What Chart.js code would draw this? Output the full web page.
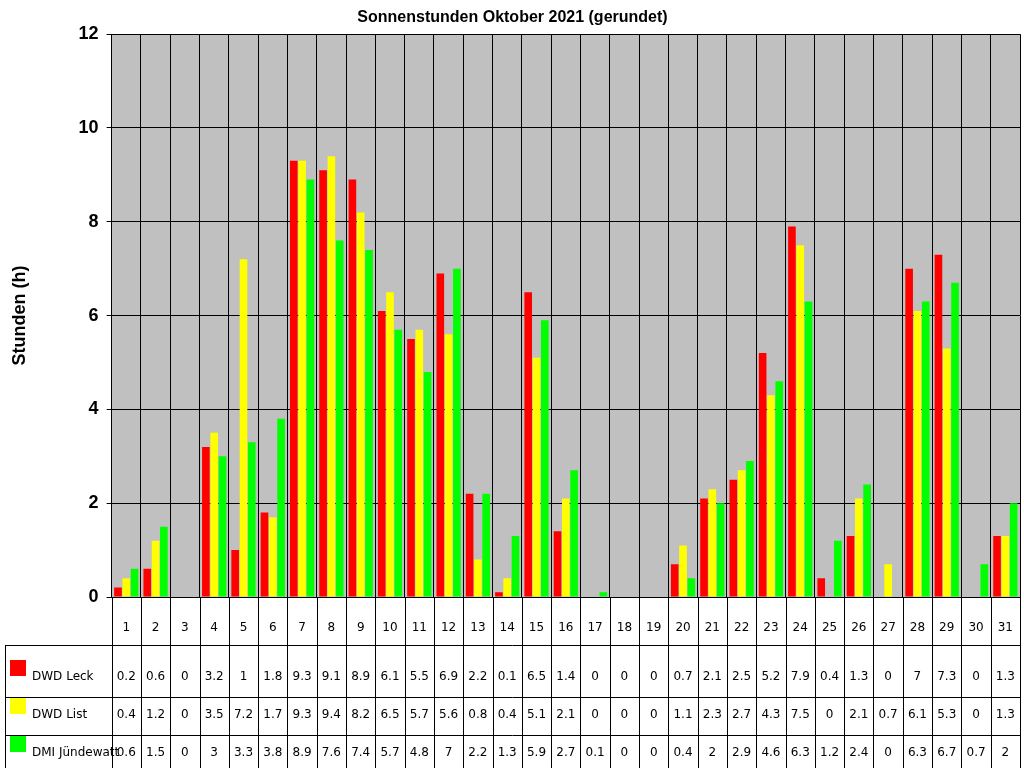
<!DOCTYPE html>
<html><head><meta charset="utf-8">
<script src="https://cdn.jsdelivr.net/npm/chart.js@4"></script>
<style>body{margin:0;background:#fff}</style>
</head><body><canvas id="c" width="1024" height="768"></canvas>
<script>
const days = Array.from({length: 31}, (_, i) => String(i + 1));
const leck = [0.2,0.6,0,3.2,1,1.8,9.3,9.1,8.9,6.1,5.5,6.9,2.2,0.1,6.5,1.4,0,0,0,0.7,2.1,2.5,5.2,7.9,0.4,1.3,0,7,7.3,0,1.3];
const list = [0.4,1.2,0,3.5,7.2,1.7,9.3,9.4,8.2,6.5,5.7,5.6,0.8,0.4,5.1,2.1,0,0,0,1.1,2.3,2.7,4.3,7.5,0,2.1,0.7,6.1,5.3,0,1.3];
const dmi = [0.6,1.5,0,3,3.3,3.8,8.9,7.6,7.4,5.7,4.8,7,2.2,1.3,5.9,2.7,0.1,0,0,0.4,2,2.9,4.6,6.3,1.2,2.4,0,6.3,6.7,0.7,2];
const seriesNames = ["DWD Leck", "DWD List", "DMI Jündewatt"];
const colors = ["#ff0000", "#ffff00", "#00ff00"];

// grey plot background
const bgPlugin = {
    id: "bg",
    beforeDraw(chart) {
        let a = chart.chartArea, ctx = chart.ctx;
        ctx.fillStyle = "#c0c0c0";
        ctx.fillRect(a.left, a.top, a.right - a.left, a.bottom - a.top);
    }
};

// data table under the chart
const tablePlugin = {
    id: "table",
    afterDraw(chart) {
        let ctx = chart.ctx, a = chart.chartArea, x = chart.scales.x;
        let w = (a.right - a.left) / days.length;
        let rows = [a.bottom, 645, 697, 735, 768];
        ctx.save();
        ctx.strokeStyle = "#000";
        ctx.lineWidth = 1;
        ctx.beginPath();
        rows.slice(1, 4).forEach(y => { ctx.moveTo(5, y + 0.5); ctx.lineTo(a.right, y + 0.5); });
        ctx.moveTo(5.5, rows[1]); ctx.lineTo(5.5, 768);
        for (let i = 0; i <= days.length; i++) {
            let xx = Math.round(a.left + i * w) + 0.5;
            ctx.moveTo(xx, a.bottom); ctx.lineTo(xx, 768);
        }
        ctx.stroke();
        ctx.fillStyle = "#000";
        ctx.font = "12px 'DejaVu Sans'";
        ctx.textAlign = "center";
        ctx.textBaseline = "middle";
        days.forEach((d, i) => ctx.fillText(d, x.getPixelForValue(i), 628));
        [leck, list, dmi].forEach((s, r) => {
            let y = [677, 715, 753][r];
            s.forEach((v, i) => ctx.fillText(String(v), x.getPixelForValue(i), y));
            ctx.fillStyle = colors[r];
            ctx.fillRect(10, y - 17, 16, 16);
            ctx.fillStyle = "#000";
            ctx.textAlign = "left";
            ctx.fillText(seriesNames[r], 32, y);
            ctx.textAlign = "center";
        });
        ctx.restore();
    }
};

new Chart(document.getElementById("c"), {
    type: "bar",
    data: {
        labels: days,
        datasets: [leck, list, dmi].map((d, i) => ({
            label: seriesNames[i], data: d, backgroundColor: colors[i],
            barPercentage: 0.92, categoryPercentage: 0.85
        }))
    },
    options: {
        responsive: false, animation: false,
        layout: {padding: {left: 5, right: 4, bottom: 171, top: 0}},
        plugins: {
            legend: {display: false},
            tooltip: {enabled: false},
            title: {display: true, text: "Sonnenstunden Oktober 2021 (gerundet)",
                font: {family: "Liberation Sans", size: 16, weight: "bold"}, color: "#000",
                padding: {top: 8, bottom: 7}}
        },
        scales: {
            x: {
                ticks: {display: false},
                grid: {color: "#000", offset: true, drawTicks: false},
                border: {color: "#000"}
            },
            y: {
                min: 0, max: 12,
                ticks: {stepSize: 2, color: "#000", padding: 8,
                    font: {family: "Liberation Sans", size: 18, weight: "bold"}},
                grid: {color: "#000", drawTicks: true, tickLength: 5},
                border: {color: "#000"},
                title: {display: true, text: "Stunden (h)", color: "#000", padding: {bottom: 40},
                    font: {family: "Liberation Sans", size: 18, weight: "bold"}}
            }
        }
    },
    plugins: [bgPlugin, tablePlugin]
});
</script>
</body></html>
